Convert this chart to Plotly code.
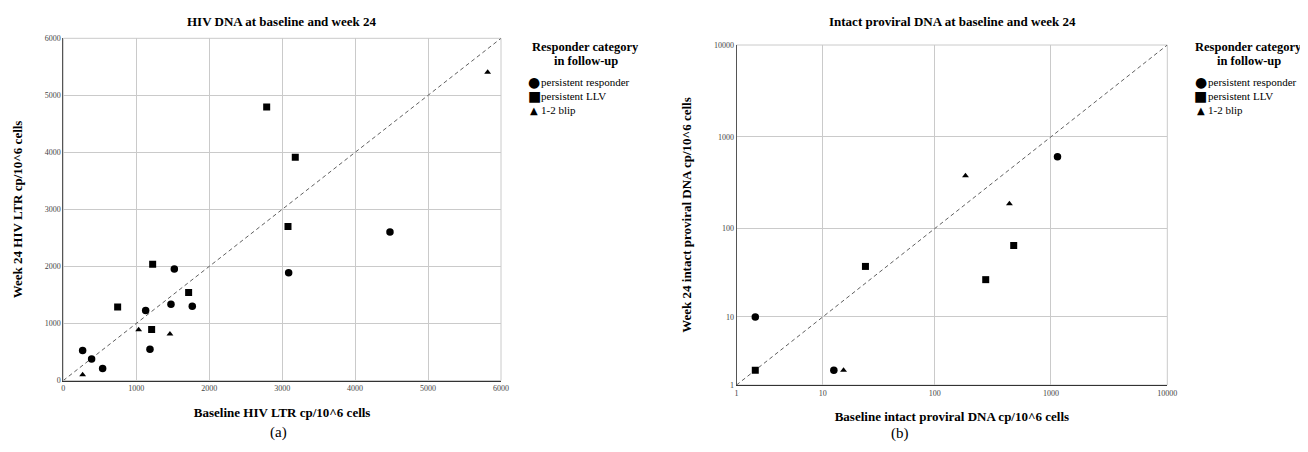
import plotly.graph_objects as go

# ---------------- Data: panel (a) HIV LTR DNA ----------------
a_resp_x = [265, 388, 539, 1129, 1188, 1476, 1522, 1768, 3089, 4478]
a_resp_y = [527, 375, 211, 1229, 550, 1335, 1955, 1300, 1891, 2605]
a_llv_x = [745, 1225, 1211, 1718, 2788, 3180, 3080]
a_llv_y = [1288, 2037, 896, 1545, 4794, 3916, 2699]
a_blip_x = [265, 1033, 1462, 5817]
a_blip_y = [100, 890, 814, 5403]

# ---------------- Data: panel (b) intact proviral DNA ----------------
b_resp_x = [1.9, 12.7, 1140]
b_resp_y = [10, 1.9, 607]
b_llv_x = [1.9, 24.6, 275, 479]
b_llv_y = [1.9, 38, 27, 65]
b_blip_x = [15.6, 184, 440]
b_blip_y = [1.9, 376, 186]

a_ticks = [0, 1000, 2000, 3000, 4000, 5000, 6000]
b_ticks = [1, 10, 100, 1000, 10000]
b_ticklabels = ["1", "10", "100", "1000", "10000"]

categories = ["persistent responder", "persistent LLV", "1-2 blip"]
symbols = ["circle", "square", "triangle-up"]
glyphs = ["\u25CF", "\u25A0", "\u25B2"]

# the page body has an 8px margin, so the figure is drawn 8px in from the top-left
OFF = 8
W, H = 1308 - OFF, 452 - 2 * OFF
SERIF = "Liberation Serif"

def px(x):
    return (x - OFF) / W

def py(y):
    return 1 - (y - OFF) / H

fig = go.Figure()

a_sets = [(a_resp_x, a_resp_y), (a_llv_x, a_llv_y), (a_blip_x, a_blip_y)]
b_sets = [(b_resp_x, b_resp_y), (b_llv_x, b_llv_y), (b_blip_x, b_blip_y)]
sizes_a = [7.5, 7, 6]
sizes_b = [7.5, 7, 6]

# diagonal reference lines (y = x)
fig.add_trace(go.Scatter(x=[a_ticks[0], a_ticks[-1]], y=[a_ticks[0], a_ticks[-1]], mode="lines",
                         line=dict(color="#606060", width=1, dash="4px,3px"),
                         xaxis="x", yaxis="y", showlegend=False, hoverinfo="skip"))
fig.add_trace(go.Scatter(x=[b_ticks[0] + 1, b_ticks[-1] + 1], y=[b_ticks[0] + 1, b_ticks[-1] + 1], mode="lines",
                         line=dict(color="#606060", width=1, dash="4px,3px"),
                         xaxis="x2", yaxis="y2", showlegend=False, hoverinfo="skip"))

for (xs, ys), cat, sym, s in zip(a_sets, categories, symbols, sizes_a):
    fig.add_trace(go.Scatter(x=xs, y=ys, mode="markers", name=cat,
                             marker=dict(symbol=sym, size=s, color="black"),
                             xaxis="x", yaxis="y", showlegend=False))
# panel (b) axis is log10(value + 1)
for (xs, ys), cat, sym, s in zip(b_sets, categories, symbols, sizes_b):
    fig.add_trace(go.Scatter(x=[v + 1 for v in xs], y=[v + 1 for v in ys], mode="markers", name=cat,
                             customdata=list(zip(xs, ys)),
                             hovertemplate="%{customdata[0]}, %{customdata[1]}<extra>" + cat + "</extra>",
                             marker=dict(symbol=sym, size=s, color="black"),
                             xaxis="x2", yaxis="y2", showlegend=False))

tickfont = dict(family=SERIF, size=8, color="#444444")
titlefont = dict(family=SERIF, size=13, color="black")

common = dict(showgrid=True, gridcolor="#cacaca", gridwidth=1, showline=True, linewidth=1,
              zeroline=False, ticks="", tickfont=tickfont, automargin=False)

fig.update_layout(
    width=W, height=H, margin=dict(l=0, r=0, t=0, b=0),
    paper_bgcolor="white", plot_bgcolor="white", showlegend=False,
    xaxis=dict(domain=[px(63.3), px(501)], range=[0, 6000], tickvals=a_ticks,
               linecolor="#333333", anchor="y",
               title=dict(text="<b>Baseline HIV LTR cp/10^6 cells</b>", font=titlefont, standoff=15),
               **common),
    yaxis=dict(domain=[py(380.5), py(38.3)], range=[0, 6000], tickvals=a_ticks,
               linecolor="#555555", anchor="x",
               title=dict(text="<b>Week 24 HIV LTR cp/10^6 cells</b>", font=titlefont, standoff=19),
               **common),
    xaxis2=dict(domain=[px(736.5), px(1167.3)], type="log",
                range=[0.30103, 4.000043], tickvals=[t + 1 for t in b_ticks], ticktext=b_ticklabels,
                linecolor="#333333", anchor="y2",
                title=dict(text="<b>Baseline intact proviral DNA cp/10^6 cells</b>", font=titlefont, standoff=15),
                **common),
    yaxis2=dict(domain=[py(385), py(45)], type="log",
                range=[0.30103, 4.000043], tickvals=[t + 1 for t in b_ticks], ticktext=b_ticklabels,
                linecolor="#555555", anchor="x2",
                title=dict(text="<b>Week 24 intact proviral DNA cp/10^6 cells</b>", font=titlefont, standoff=19),
                **common),
)

# light frame on the top/right edges of each plot area
for xr, yr in [("x domain", "y domain"), ("x2 domain", "y2 domain")]:
    fig.add_shape(type="rect", xref=xr, yref=yr, x0=0, x1=1, y0=0, y1=1,
                  line=dict(color="#cacaca", width=1), layer="below")

ann = []
# panel titles
ann.append(dict(text="<b>HIV DNA at baseline and week 24</b>", x=px(282), y=py(21.7),
                font=dict(family=SERIF, size=13, color="black")))
ann.append(dict(text="<b>Intact proviral DNA at baseline and week 24</b>", x=px(952), y=py(21.7),
                font=dict(family=SERIF, size=13, color="black")))
# panel labels
ann.append(dict(text="(a)", x=px(278), y=py(432), font=dict(family=SERIF, size=15, color="black")))
ann.append(dict(text="(b)", x=px(900), y=py(433), font=dict(family=SERIF, size=15, color="black")))

# legends
for cx, sx, tx in [(585.7, 534, 539), (1248.5, 1200.5, 1205.7)]:
    ann.append(dict(text="<b>Responder category</b>", x=px(cx), y=py(46.7),
                    font=dict(family=SERIF, size=12.5, color="black")))
    ann.append(dict(text="<b>in follow-up</b>", x=px(cx), y=py(60.7),
                    font=dict(family=SERIF, size=12.5, color="black")))
    for yy, g, cat, gs in zip([82, 96.5, 110], glyphs, categories, [14, 14, 10]):
        ann.append(dict(text=g, x=px(sx), y=py(yy), font=dict(family="DejaVu Sans", size=gs, color="black")))
        ann.append(dict(text=cat, x=px(tx), y=py(yy), xanchor="left",
                        font=dict(family=SERIF, size=11, color="black")))

for a in ann:
    a.setdefault("xanchor", "center")
    a.update(xref="paper", yref="paper", yanchor="middle", showarrow=False)
fig.update_layout(annotations=ann)

fig.write_html("out.html")
